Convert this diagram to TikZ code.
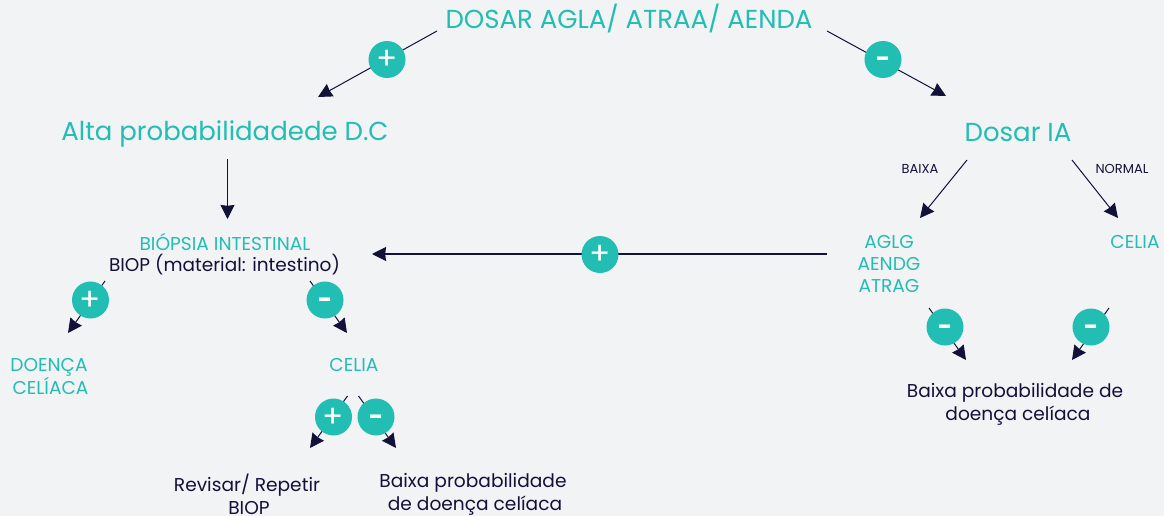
\documentclass[tikz,border=0pt]{standalone}
\usepackage{fontspec}
\setmainfont{Poppins}
\usetikzlibrary{arrows.meta}
\definecolor{teal1}{HTML}{22BDB3}
\definecolor{ink}{HTML}{12113A}
\definecolor{bgc}{HTML}{F2F3F5}
\tikzset{
 lab/.style={inner sep=0pt,align=center,font=\fontsize{#1}{22.8}\selectfont},
 tl/.style={lab=#1,text=teal1},
 dl/.style={lab=#1,text=ink},
 badge/.style={circle,fill=teal1,text=white,minimum size=37pt,inner sep=0pt,text height=0pt,text depth=0pt},
 plusb/.style={badge,font=\fontsize{31}{31}\selectfont},
 minusb/.style={badge,font=\fontsize{25}{25}\selectfont\bfseries},
 conn/.style={draw=ink,line width=1pt,-{Stealth[inset=0.8pt,length=14pt,width=14pt]}},
}
\newcommand{\plusmark}{\raisebox{-10pt}{+}}
\newcommand{\minusmark}{\raisebox{-8.5pt}{-}}
\begin{document}
\begin{tikzpicture}[x=1pt,y=-1pt]
\path[use as bounding box,fill=bgc] (0,0) rectangle (1164,516);
% text
\node[tl=26] (top) at (629,18.5) {DOSAR AGLA/ ATRAA/ AENDA};
\node[tl=26] (alta) at (225,133.5) {Alta probabilidadede D.C};
\node[tl=26] (ia) at (1018,132.5) {Dosar IA};
\node[dl=13] (baixa) at (920,169) {BAIXA};
\node[dl=13] (normal) at (1122,169) {NORMAL};
\node[tl=18.6] (biop1) at (225,241.5) {BIÓPSIA INTESTINAL};
\node[dl=18.5] (biop2) at (224.5,265) {BIOP (material: intestino)};
\node[tl=18.6,font=\fontsize{18.6}{21.8}\selectfont] (aglg) at (889,264) {AGLG\\AENDG\\ATRAG};
\node[tl=18.6] (celia1) at (1135,242) {CELIA};
\node[tl=18.6] (doenca) at (49,376.5) {DOENÇA\\\hspace*{3pt}CELÍACA};
\node[tl=18.6] (celia2) at (354,365) {CELIA};
\node[dl=18.6] (revisar) at (247,494) {Revisar/ Repetir\\\hspace*{4pt}BIOP};
\node[dl=18.6] (baixa2) at (473,494) {Baixa probabilidade\\\hspace*{4pt}de doença celíaca};
\node[dl=18.6] (baixa3) at (1015,404) {Baixa probabilidade de\\\hspace*{6pt}doença celíaca};
% connector ends
\coordinate (a1) at (437,31); \coordinate (a2) at (318,97);
\coordinate (b1) at (827,31); \coordinate (b2) at (946,96);
\coordinate (c1) at (227.5,159); \coordinate (c2) at (227.5,219);
\coordinate (d1) at (967,160); \coordinate (d2) at (920,218);
\coordinate (e1) at (1072,160); \coordinate (e2) at (1118,218);
\coordinate (f1) at (827,254); \coordinate (f2) at (372,254);
\coordinate (g1) at (105,281); \coordinate (g2) at (68,333);
\coordinate (h1) at (310,281); \coordinate (h2) at (347,333);
\coordinate (i1) at (347.5,396); \coordinate (i2) at (310,448);
\coordinate (j1) at (358.5,396); \coordinate (j2) at (396,448);
\coordinate (k1) at (929,308); \coordinate (k2) at (966,360);
\coordinate (l1) at (1109,308); \coordinate (l2) at (1072,360);
\draw[conn] (a1) -- (a2);
\draw[conn] (b1) -- (b2);
\draw[conn] (c1) -- (c2);
\draw[conn] (d1) -- (d2);
\draw[conn] (e1) -- (e2);
\draw[conn,line width=1.3pt] (f1) -- (f2);
\draw[conn] (g1) -- (g2);
\draw[conn] (h1) -- (h2);
\draw[conn] (i1) -- (i2);
\draw[conn] (j1) -- (j2);
\draw[conn] (k1) -- (k2);
\draw[conn] (l1) -- (l2);
% badges
\node[plusb] (ba) at (387,59.5) {\plusmark};
\node[minusb] (bb) at (883,59.5) {\minusmark};
\node[plusb] (bf) at (600,254.5) {\plusmark};
\node[plusb] (bg) at (90.5,300) {\plusmark};
\node[minusb] (bh) at (325,300) {\minusmark};
\node[plusb] (bi) at (333.5,417) {\plusmark};
\node[minusb] (bj) at (376,417) {\minusmark};
\node[minusb] (bk) at (945,327) {\minusmark};
\node[minusb] (bl) at (1091,327) {\minusmark};
\end{tikzpicture}
\end{document}
